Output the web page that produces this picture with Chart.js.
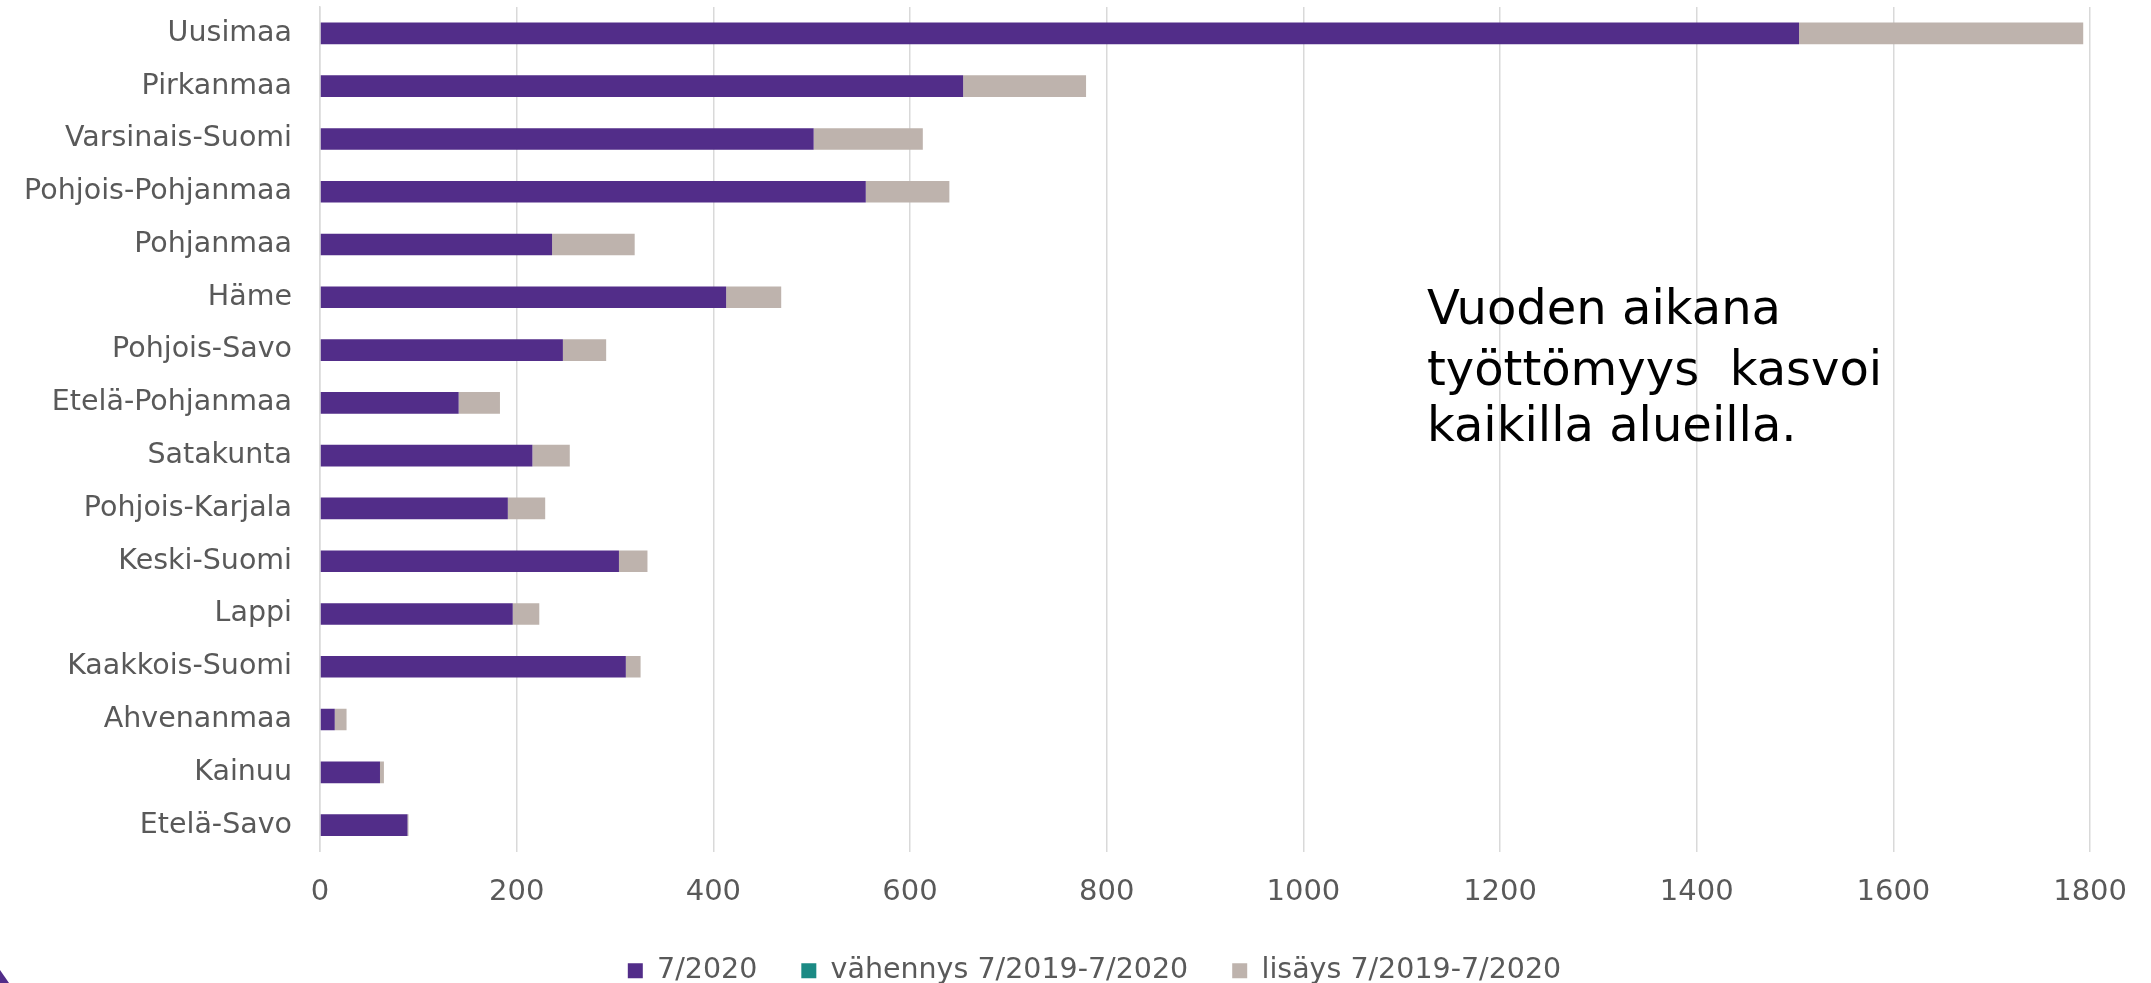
<!DOCTYPE html>
<html>
<head>
<meta charset="utf-8">
<script src="https://cdn.jsdelivr.net/npm/chart.js@4/dist/chart.umd.min.js"></script>
<style>
  html, body { margin: 0; padding: 0; background: #fff; }
  #wrap { width: 2151px; height: 983px; position: relative; }
</style>
</head>
<body>
<div id="wrap"><canvas id="chart"></canvas></div>
<script>
// alueet ylhäältä alas
var regions = [
  "Uusimaa", "Pirkanmaa", "Varsinais-Suomi", "Pohjois-Pohjanmaa", "Pohjanmaa",
  "Häme", "Pohjois-Savo", "Etelä-Pohjanmaa", "Satakunta", "Pohjois-Karjala",
  "Keski-Suomi", "Lappi", "Kaakkois-Suomi", "Ahvenanmaa", "Kainuu", "Etelä-Savo"
];
var jul2020 = [1504, 654, 502, 555, 236, 413, 247, 141, 216, 191, 304, 196, 311, 15, 61, 89];
var decrease = [0, 0, 0, 0, 0, 0, 0, 0, 0, 0, 0, 0, 0, 0, 0, 0];
var increase = [289, 125, 111, 85, 84, 56, 44, 42, 38, 38, 29, 27, 15, 12, 4, 1];
var seriesNames = ["7/2020", "vähennys 7/2019-7/2020", "lisäys 7/2019-7/2020"];
var xTicks = [0, 200, 400, 600, 800, 1000, 1200, 1400, 1600, 1800];

var FONT = "'DejaVu Sans', Verdana, sans-serif";
var TEXT = "#595959";

// teksti oikealla + pieni kulmakuvio
var notePlugin = {
  id: "note",
  afterLayout: function (chart) {
    // selite hieman oikealle kuten alkuperäisessä
    chart.legend.left += 38;
    chart.legend.right += 38;
  },
  afterDraw: function (chart) {
    var ctx = chart.ctx;
    ctx.save();
    ctx.fillStyle = "#000";
    ctx.font = "48px " + FONT;
    ctx.textBaseline = "alphabetic";
    ctx.textAlign = "left";
    ctx.fillText("Vuoden aikana", 1427, 324);
    ctx.fillText("työttömyys  kasvoi", 1427, 385);
    ctx.fillText("kaikilla alueilla.", 1427, 441);
    ctx.fillStyle = "#522D89";
    ctx.beginPath();
    ctx.moveTo(0, 970);
    ctx.lineTo(9, 983);
    ctx.lineTo(0, 983);
    ctx.closePath();
    ctx.fill();
    ctx.restore();
  }
};

new Chart(document.getElementById("chart"), {
  type: "bar",
  data: {
    labels: regions,
    datasets: [
      { label: seriesNames[0], data: jul2020, backgroundColor: "#522D89" },
      { label: seriesNames[1], data: decrease, backgroundColor: "#1B8A84" },
      { label: seriesNames[2], data: increase, backgroundColor: "#BEB3AD" }
    ]
  },
  options: {
    indexAxis: "y",
    responsive: true,
    maintainAspectRatio: false,
    animation: false,
    layout: { padding: { left: 16, right: 54, top: 7, bottom: -12 } },
    datasets: { bar: { categoryPercentage: 1, barPercentage: 0.41, borderWidth: 0 } },
    scales: {
      x: {
        stacked: true,
        min: 0,
        max: 1800,
        afterBuildTicks: function (axis) {
          axis.ticks = xTicks.map(function (v) { return { value: v }; });
        },
        afterFit: function (axis) { axis.height = 61; },
        grid: { color: "#D9D9D9", lineWidth: 1.5, drawTicks: false },
        border: { display: false },
        ticks: {
          color: TEXT,
          font: { family: FONT, size: 29 },
          padding: 24,
          callback: function (v) { return String(v); }
        }
      },
      y: {
        stacked: true,
        afterFit: function (axis) {
          axis.width = 304;
          axis.paddingTop = 0;
          axis.paddingBottom = 0;
        },
        grid: { display: false, drawTicks: true, tickLength: 28 },
        border: { display: true, color: "#D9D9D9", width: 1.5 },
        ticks: { color: TEXT, font: { family: FONT, size: 28.5 }, padding: 0, autoSkip: false }
      }
    },
    plugins: {
      legend: {
        position: "bottom",
        labels: {
          color: TEXT,
          font: { family: FONT, size: 28.5 },
          boxWidth: 15,
          boxHeight: 15,
          padding: 44
        }
      },
      tooltip: { enabled: false }
    }
  },
  plugins: [notePlugin]
});
</script>
</body>
</html>
